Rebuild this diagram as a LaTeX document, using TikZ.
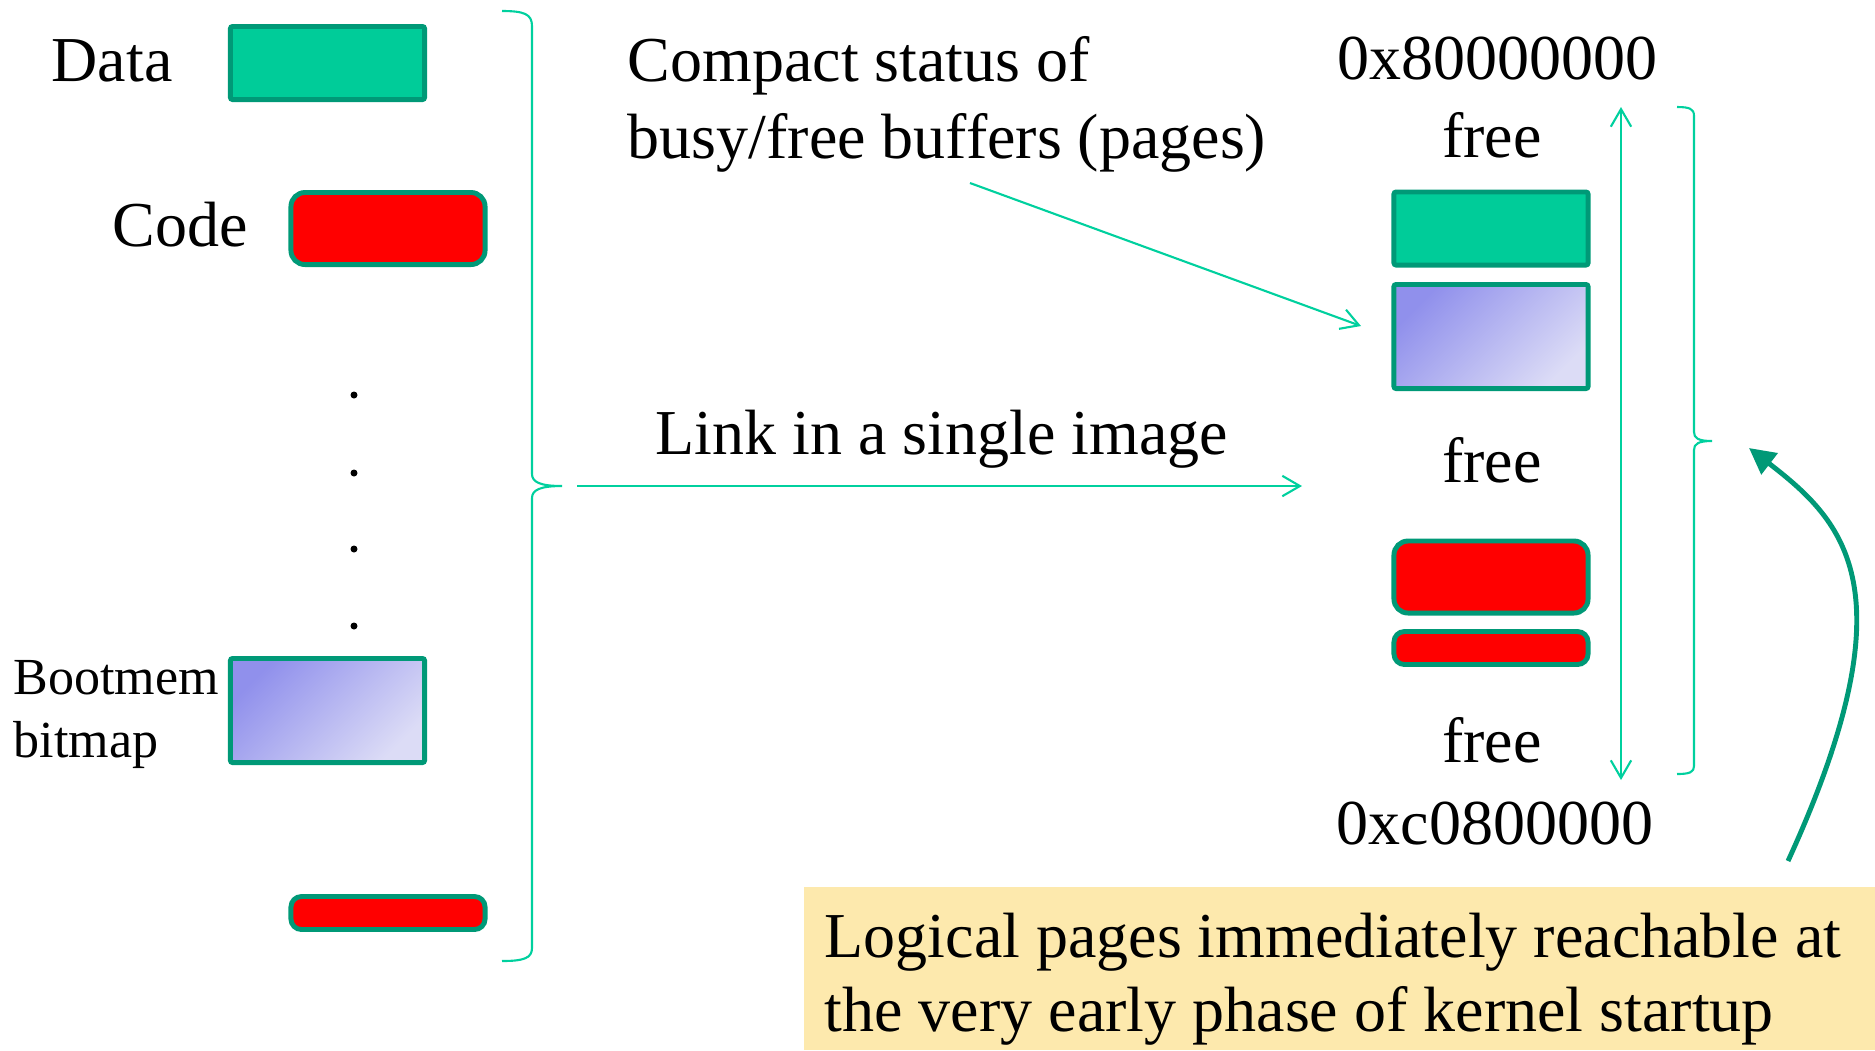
\documentclass[tikz,border=0pt]{standalone}
\usepackage{fontspec}
\setmainfont{Liberation Serif}
\usetikzlibrary{arrows.meta}
\definecolor{blkgreen}{RGB}{0,204,153}
\definecolor{blkedge}{RGB}{0,153,119}
\definecolor{linkcol}{RGB}{0,208,158}
\definecolor{bmdark}{RGB}{144,144,236}
\definecolor{bmlight}{RGB}{220,220,246}
\definecolor{notebg}{RGB}{253,233,173}

\begin{document}
\begin{tikzpicture}[x=0.01cm, y=-0.01cm,
    blk/.style={draw=blkedge, line width=1.4pt, minimum width=1.94cm, inner sep=0pt},
    datablk/.style={blk, fill=blkgreen, rounded corners=0.6pt, minimum height=0.73cm},
    codeblk/.style={blk, fill=red, rounded corners=4pt, minimum height=0.72cm},
    smallcode/.style={blk, fill=red, rounded corners=3pt, minimum height=0.33cm},
    bmblk/.style={blk, top color=bmdark, bottom color=bmlight, shading angle=45, rounded corners=0.6pt, minimum height=1.04cm},
    lbl/.style={font=\fontsize{18.2}{21.8}\selectfont, inner sep=0pt},
    small/.style={font=\fontsize{14.8}{17.8}\selectfont, inner sep=0pt},
    link/.style={draw=linkcol, line width=0.6pt, -{Straight Barb[length=5pt,width=5.8pt]}},
    span/.style={draw=linkcol, line width=0.6pt, {Straight Barb[length=5pt,width=5.8pt]}-{Straight Barb[length=5pt,width=5.8pt]}},
    brace/.style={draw=linkcol, line width=0.6pt},
    reach/.style={draw=blkedge, line width=1.4pt, -{Triangle[length=7.4pt,width=7.4pt]}}]
    \useasboundingbox (0,0) rectangle (1875,1050);

    % Sections of the kernel image
    \node[lbl, anchor=base west] (datalbl) at (51,81) {Data};
    \node[datablk] (data) at (327.5,63) {};
    \node[lbl, anchor=base west] (codelbl) at (112,246) {Code};
    \node[codeblk] (code) at (388,228.5) {};
    \foreach \y in {395,473,549,626}
        \fill (354,\y) circle (3.5);
    \node[small, anchor=base west] (bmlbl) at (13,694) {Bootmem};
    \node[small, anchor=base west] (bmlbl2) at (13,757) {bitmap};
    \node[bmblk] (bitmap) at (327.5,710.5) {};
    \node[smallcode] (code2) at (388,913) {};

    % Brace round the sections
    \draw[brace] (502,11) .. controls (524,11) and (532,14) .. (532,26) -- (532,474)
        .. controls (532,482) and (540,486) .. (562,486)
        .. controls (540,486) and (532,490) .. (532,498) -- (532,948)
        .. controls (532,958) and (524,961) .. (502,961);
    \coordinate (ltip) at (577,486);

    % Linking
    \node[lbl, anchor=base] (linklbl) at (942,454) {Link in a single image};
    \coordinate (imgin) at (1302,486);
    \draw[link] (ltip) -- (imgin);

    \node[lbl, anchor=base west] (cmp1) at (627,81) {Compact status of};
    \node[lbl, anchor=base west] (cmp2) at (627,158) {busy/free buffers (pages)};
    \coordinate (cmpout) at (970,183);
    \coordinate (bmin) at (1361,326);
    \draw[link] (cmpout) -- (bmin);

    % Memory layout of the image
    \node[lbl, anchor=base] (hiaddr) at (1497,79) {0x80000000};
    \node[lbl, anchor=base] (free1) at (1492,157) {free};
    \node[datablk] (rdata) at (1491,228.5) {};
    \node[bmblk] (rbitmap) at (1491,336.5) {};
    \node[lbl, anchor=base] (free2) at (1492,482) {free};
    \node[codeblk] (rcode) at (1491,577) {};
    \node[smallcode] (rcode2) at (1491,648) {};
    \node[lbl, anchor=base] (free3) at (1492,762) {free};
    \node[lbl, anchor=base] (loaddr) at (1495,844) {0xc0800000};

    \coordinate (spantop) at (1621,107);
    \coordinate (spanbot) at (1621,780);
    \draw[span] (spantop) -- (spanbot);

    \draw[brace] (1677,107) .. controls (1690,107) and (1694,109) .. (1694,116) -- (1694,432)
        .. controls (1694,438) and (1698,441) .. (1712,441)
        .. controls (1698,441) and (1694,444) .. (1694,450) -- (1694,766)
        .. controls (1694,772) and (1690,774) .. (1677,774);
    \coordinate (rtip) at (1749,448);

    % Note
    \fill[notebg] (804,887) rectangle (1875,1050);
    \node[lbl, anchor=base west] (note1) at (824,957) {Logical pages immediately reachable at};
    \node[lbl, anchor=base west] (note2) at (824,1031) {the very early phase of kernel startup};
    \coordinate (notetop) at (1788,861);
    \draw[reach] (notetop) .. controls (1912,590) and (1845,522) .. (rtip);
\end{tikzpicture}
\end{document}
